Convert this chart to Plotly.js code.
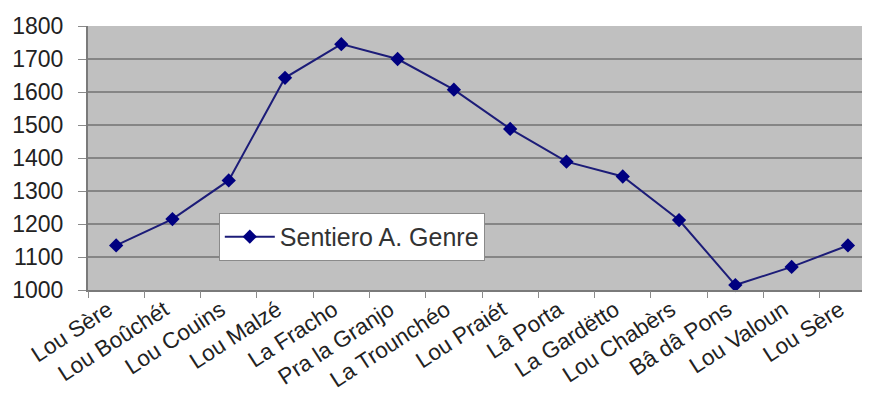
<!DOCTYPE html>
<html>
<head>
<meta charset="utf-8">
<script src="https://cdn.plot.ly/plotly-3.0.1.min.js"></script>
<style>
  html, body { margin: 0; padding: 0; background: #ffffff; }
  #chart { width: 871px; height: 410px; }
</style>
</head>
<body>
<div id="chart"></div>
<script>
const stops = ["Lou Sère", "Lou Boûchét", "Lou Couins", "Lou Malzé", "La Fracho",
  "Pra la Granjo", "La Trounchéo", "Lou Praiét", "Lâ Porta", "La Gardëtto",
  "Lou Chabèrs", "Bâ dâ Pons", "Lou Valoun", "Lou Sère"];
const altitude = [1135, 1215, 1332, 1643, 1745, 1700, 1607, 1488, 1389, 1344, 1212, 1015, 1070, 1135];
const seriesName = "Sentiero A. Genre";
const yTicks = [1000, 1100, 1200, 1300, 1400, 1500, 1600, 1700, 1800];

const idx = stops.map((_, i) => i);
const boundaries = stops.map((_, i) => i - 0.5).concat([stops.length - 0.5]);
// the original picture is cropped on the right: the last category is cut short
const xRange = [-0.5, stops.length - 0.75];

const font = "Liberation Sans, Arial, sans-serif";

const traces = [
  {
    type: "scatter",
    mode: "lines+markers",
    name: seriesName,
    x: idx,
    y: altitude,
    line: { color: "#1c1c78", width: 2 },
    marker: { symbol: "diamond", size: 11, color: "#000080" },
    cliponaxis: false,
    xaxis: "x",
    yaxis: "y"
  },
  {
    type: "scatter",
    mode: "markers",
    x: [],
    y: [],
    showlegend: false,
    hoverinfo: "skip",
    xaxis: "x2",
    yaxis: "y"
  }
];

const layout = {
  width: 871,
  height: 410,
  margin: { l: 88, r: 9, t: 26, b: 120 },
  paper_bgcolor: "#ffffff",
  plot_bgcolor: "#c0c0c0",
  font: { family: font, size: 22, color: "#222222" },
  showlegend: true,
  legend: {
    x: 0.169, y: 0.292, xanchor: "left", yanchor: "top",
    bgcolor: "#ffffff", bordercolor: "#8a8a8a", borderwidth: 1,
    font: { family: font, size: 25, color: "#333333" },
    itemwidth: 50
  },
  xaxis: {
    range: xRange,
    tickmode: "array",
    tickvals: idx,
    ticktext: stops,
    tickangle: -33,
    ticks: "",
    ticklabelshift: -8,
    ticklabelstandoff: -4,
    showgrid: false,
    zeroline: false,
    showline: true,
    linecolor: "#7a7a7a",
    linewidth: 2,
    tickfont: { family: font, size: 22.5, color: "#222222" },
    fixedrange: true
  },
  xaxis2: {
    overlaying: "x",
    anchor: "y",
    side: "bottom",
    range: xRange,
    tickmode: "array",
    tickvals: boundaries,
    showticklabels: false,
    ticks: "outside",
    ticklen: 7,
    tickwidth: 1,
    tickcolor: "#8a8a8a",
    showgrid: false,
    zeroline: false,
    showline: false
  },
  yaxis: {
    range: [1000, 1800],
    tickmode: "array",
    tickvals: yTicks,
    ticks: "outside",
    ticklen: 8,
    tickwidth: 1,
    tickcolor: "#8a8a8a",
    ticklabelstandoff: 10,
    showgrid: true,
    gridcolor: "#858585",
    gridwidth: 2,
    zeroline: false,
    showline: true,
    linecolor: "#7a7a7a",
    linewidth: 2,
    tickfont: { family: font, size: 23, color: "#222222" }
  }
};

Plotly.newPlot("chart", traces, layout, { displayModeBar: false, staticPlot: true });
</script>
</body>
</html>
